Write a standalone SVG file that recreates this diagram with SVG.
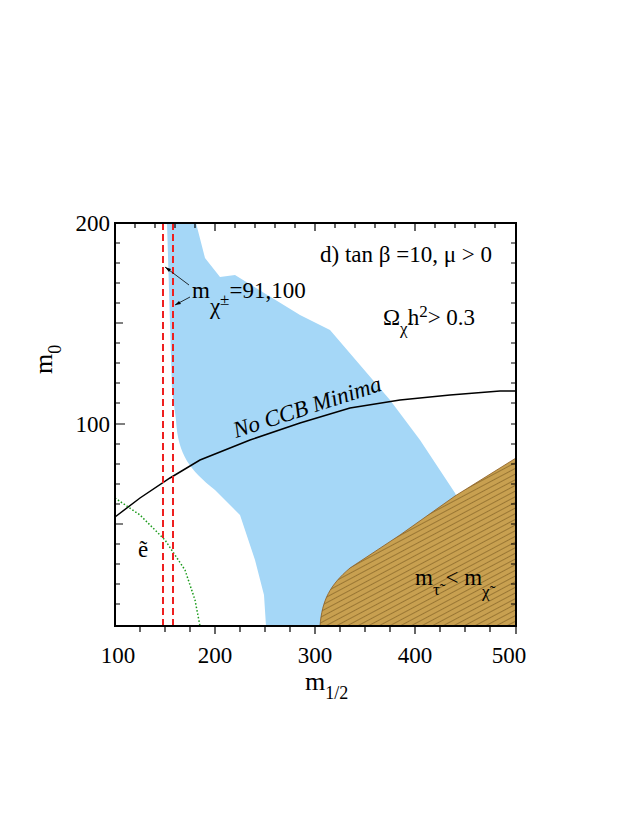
<svg xmlns="http://www.w3.org/2000/svg" width="623" height="830" viewBox="0 0 623 830">
<style>
text{font-family:"Liberation Serif","Times New Roman",serif;fill:#000}
.t{font-size:23px}
.s{font-size:17px}
.tk{stroke:#000;stroke-width:1.2}
</style>
<defs>
<pattern id="h" width="5" height="5" patternUnits="userSpaceOnUse" patternTransform="rotate(-28)">
<rect width="5" height="5" fill="#c8a050"/>
<line x1="0" y1="0" x2="5" y2="0" stroke="#7a5a20" stroke-width="1.2"/>
</pattern>
</defs>
<rect width="623" height="830" fill="#fff"/>
<g id="blue">
<path d="M167,223 L196,223 L205,258 L220,277 L235,275 L300,315 L330,330 L360,365 L390,400 L420,440 L455,493 L516,626 L266,626 L264,595 L255,560 L240,515 L215,490 C190,470 178,455 176,420 L172,390 Z" fill="#a5d7f7"/>
</g>
<g id="stau">
<path d="M320,626 C322,600 330,585 350,568 L400,535 L455,496 L516,458 L516,626 Z" fill="url(#h)" stroke="#8a5a20" stroke-width="0.8"/>
</g>
<g id="connectors">
<path d="M115,517 L140,498 L170,478 L200,460 L250,440 L300,423 L350,408 L400,400 L450,395 L500,391 L516,391" fill="none" stroke="#000" stroke-width="1.5"/>
<path d="M115,498 L140,515 L165,540 L185,570 L195,600 L200,626" fill="none" stroke="#1a9a1a" stroke-width="1.5" stroke-dasharray="1.5,2"/>
<line x1="163" y1="223" x2="163" y2="626" stroke="#ee2020" stroke-width="2" stroke-dasharray="7,4"/>
<line x1="173" y1="223" x2="173" y2="626" stroke="#ee2020" stroke-width="2" stroke-dasharray="7,4"/>
<line x1="189" y1="285" x2="165" y2="267" stroke="#000" stroke-width="0.8"/>
<path d="M165,267 l6,2 l-2,3 z" fill="#000"/>
<line x1="190" y1="297" x2="175" y2="305" stroke="#000" stroke-width="0.8"/>
<path d="M175,305 l4,-4 l2,3 z" fill="#000"/>
</g>
<g id="frame">
<rect x="115" y="223" width="401" height="403" fill="none" stroke="#000" stroke-width="2"/>
<path class="tk" d="M115,243h5M115,263h5M115,283h5M115,303h5M115,323h8M115,343h5M115,363h5M115,383h5M115,403h5M115,424h10M115,444h5M115,464h5M115,484h5M115,504h5M115,524h8M115,544h5M115,564h5M115,584h5M115,604h5
M516,243h-5M516,263h-5M516,283h-5M516,303h-5M516,323h-5M516,343h-5M516,363h-5M516,383h-5M516,403h-5M516,424h-5M516,444h-5M516,464h-5M516,484h-5M516,504h-5M516,524h-5M516,544h-5M516,564h-5M516,584h-5M516,604h-5
M135,223v5M155,223v5M175,223v5M195,223v5M215,223v8M235,223v5M255,223v5M275,223v5M295,223v5M315,223v8M335,223v5M355,223v5M375,223v5M395,223v5M415,223v8M435,223v5M455,223v5M475,223v5M495,223v5
M140,626v6M165,626v6M190,626v6M215,626v8M240,626v6M265,626v6M290,626v6M315,626v8M340,626v6M365,626v6M390,626v6M415,626v8M440,626v6M465,626v6M490,626v6M516,626v8"/>
</g>
<g id="labels">
<text class="t" x="118" y="663" text-anchor="middle">100</text>
<text class="t" x="215" y="663" text-anchor="middle">200</text>
<text class="t" x="315" y="663" text-anchor="middle">300</text>
<text class="t" x="415" y="663" text-anchor="middle">400</text>
<text class="t" x="509" y="663" text-anchor="middle">500</text>
<text class="t" x="110" y="231" text-anchor="end">200</text>
<text class="t" x="110" y="432" text-anchor="end">100</text>
<text font-size="26" x="305" y="690">m<tspan font-size="18" dy="9">1/2</tspan></text>
<text font-size="26" transform="translate(52,374) rotate(-90)">m<tspan font-size="18" dy="9">0</tspan></text>
<text class="t" x="320" y="262">d) tan β =10, μ &gt; 0</text>
<text class="t" x="383" y="325">Ω<tspan class="s" dy="9">χ̃</tspan><tspan dy="-9">h</tspan><tspan class="s" dy="-8">2</tspan><tspan dy="8">&gt; 0.3</tspan></text>
<text class="t" font-style="italic" transform="translate(236,438) rotate(-18)">No CCB Minima</text>
<text class="t" x="192" y="298">m<tspan dx="0" dy="16">χ</tspan><tspan class="s" dy="-9">±</tspan><tspan dy="-7">=91,100</tspan></text>
<text class="t" x="138" y="557">ẽ</text>
<text class="t" x="415" y="585">m<tspan class="s" dy="10">τ̃</tspan><tspan dy="-10"> &lt; m</tspan><tspan class="s" dy="12">χ̃</tspan></text>
</g>
</svg>
